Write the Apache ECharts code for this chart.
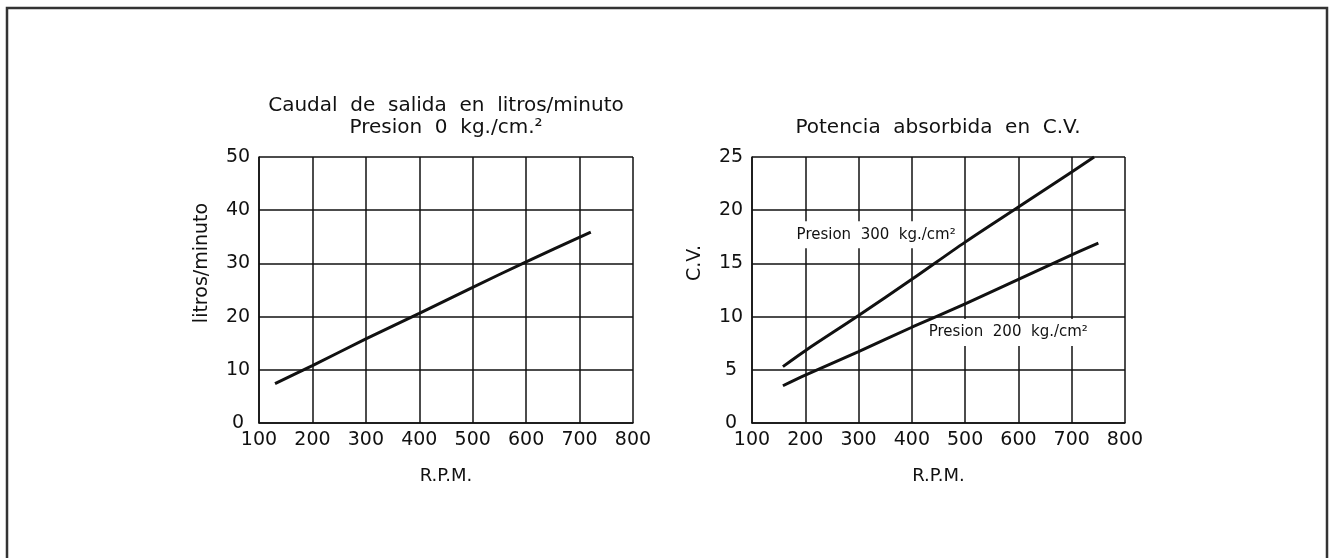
<!DOCTYPE html>
<html>
<head>
<meta charset="utf-8">
<script src="https://cdn.jsdelivr.net/npm/echarts@6/dist/echarts.min.js"></script>
<style>
  html, body { margin: 0; padding: 0; background: #fff; }
  #wrap { width: 1333px; height: 558px; }
</style>
</head>
<body>
<div id="wrap"></div>
<script>
// tick labels
var rpmTicks = [100, 200, 300, 400, 500, 600, 700, 800];

// caudal (litros/minuto) vs R.P.M., presion 0
var caudal = [[130, 7.4], [200, 10.8], [300, 15.8], [400, 20.6], [500, 25.5], [600, 30.3], [721, 35.9]];

// potencia absorbida (C.V.) vs R.P.M.
var pot300 = [[158, 5.3], [200, 6.8], [300, 10.1], [400, 13.5], [500, 17.0], [600, 20.3], [700, 23.6], [742, 25]];
var pot200 = [[158, 3.5], [200, 4.5], [300, 6.7], [400, 9.0], [500, 11.2], [600, 13.5], [700, 15.8], [750, 16.9]];

var FONT = 'DejaVu Sans';
var INK = '#111';

function xAxisFor(gi) {
    return {
        gridIndex: gi,
        type: 'value',
        min: rpmTicks[0],
        max: rpmTicks[rpmTicks.length - 1],
        interval: 100,
        name: 'R.P.M.',
        nameLocation: 'middle',
        nameGap: 44,
        nameTextStyle: { fontFamily: FONT, fontSize: 18, color: INK },
        axisLine: { show: true, lineStyle: { color: INK, width: 1.5 } },
        axisTick: { show: false },
        axisLabel: { fontFamily: FONT, fontSize: 19, color: INK, margin: 8 },
        splitLine: { show: true, lineStyle: { color: INK, width: 1.5 } }
    };
}

function yAxisFor(gi, max, step, name) {
    return {
        gridIndex: gi,
        type: 'value',
        min: 0,
        max: max,
        interval: step,
        name: name,
        nameLocation: 'middle',
        nameGap: 47,
        nameTextStyle: { fontFamily: FONT, fontSize: 19, color: INK, padding: [0, 0, 0, 54] },
        axisLine: { show: true, lineStyle: { color: INK, width: 1.5 } },
        axisTick: { show: false },
        axisLabel: { fontFamily: FONT, fontSize: 19, color: INK, margin: 21, align: 'center' },
        splitLine: { show: true, lineStyle: { color: INK, width: 1.5 } }
    };
}

function tag(text, coord) {
    return {
        coord: coord,
        symbol: 'rect',
        symbolSize: 0,
        label: {
            show: true,
            formatter: text,
            position: 'inside',
            fontFamily: FONT,
            fontSize: 15,
            color: INK,
            backgroundColor: '#fff',
            padding: [6, 4]
        }
    };
}

var option = {
    backgroundColor: '#fff',
    animation: false,
    title: [
        {
            text: 'Caudal  de  salida  en  litros/minuto\nPresion  0  kg./cm.²',
            left: 446,
            top: 95,
            padding: 0,
            textAlign: 'center',
            textStyle: { fontFamily: FONT, fontSize: 20, fontWeight: 'normal', color: INK, lineHeight: 22 }
        },
        {
            text: 'Potencia  absorbida  en  C.V.',
            left: 938,
            top: 117,
            padding: 0,
            textAlign: 'center',
            textStyle: { fontFamily: FONT, fontSize: 20, fontWeight: 'normal', color: INK, lineHeight: 22 }
        }
    ],
    grid: [
        { left: 259, top: 157, width: 374, height: 266 },
        { left: 752, top: 157, width: 373, height: 266 }
    ],
    xAxis: [xAxisFor(0), xAxisFor(1)],
    yAxis: [
        yAxisFor(0, 50, 10, 'litros/minuto'),
        yAxisFor(1, 25, 5, 'C.V.')
    ],
    series: [
        {
            name: 'Caudal',
            type: 'line',
            xAxisIndex: 0,
            yAxisIndex: 0,
            data: caudal,
            smooth: 0.3,
            showSymbol: false,
            lineStyle: { color: INK, width: 3 }
        },
        {
            name: 'Presion 300',
            type: 'line',
            xAxisIndex: 1,
            yAxisIndex: 1,
            data: pot300,
            smooth: 0.3,
            showSymbol: false,
            lineStyle: { color: INK, width: 3 },
            markPoint: { data: [tag('Presion  300  kg./cm²', [333, 17.7])] },
            z: 5
        },
        {
            name: 'Presion 200',
            type: 'line',
            xAxisIndex: 1,
            yAxisIndex: 1,
            data: pot200,
            smooth: 0.3,
            showSymbol: false,
            lineStyle: { color: INK, width: 3 },
            markPoint: { data: [tag('Presion  200  kg./cm²', [581, 8.5])] },
            z: 5
        }
    ],
    graphic: [
        {
            type: 'rect',
            shape: { x: 7, y: 8, width: 1320, height: 600 },
            style: { fill: 'none', stroke: '#333', lineWidth: 2.5 },
            silent: true
        }
    ]
};

var myChart = echarts.init(document.getElementById('wrap'));
myChart.setOption(option);
</script>
</body>
</html>
